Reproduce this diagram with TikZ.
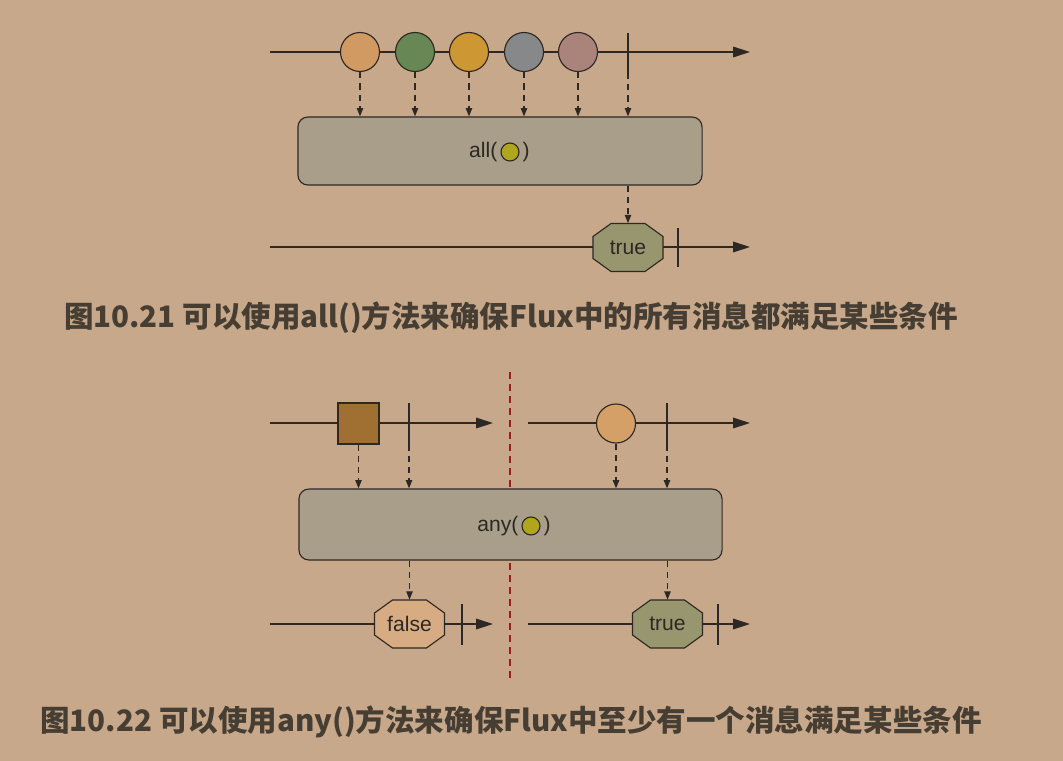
\documentclass[tikz,border=0pt]{standalone}
\usepackage{fontspec}
\setmainfont{Liberation Sans}
\newfontfamily\cjk{Noto Sans CJK SC}
\usetikzlibrary{arrows.meta,positioning}
\definecolor{bg}{RGB}{200,168,138}
\definecolor{ink}{RGB}{45,40,36}
\definecolor{boxc}{RGB}{168,158,138}
\definecolor{capc}{RGB}{70,62,50}
\definecolor{sepc}{RGB}{150,30,35}
\definecolor{m1}{RGB}{209,154,98}
\definecolor{m2}{RGB}{103,136,84}
\definecolor{m3}{RGB}{205,152,52}
\definecolor{m4}{RGB}{134,136,138}
\definecolor{m5}{RGB}{170,132,122}
\definecolor{m6}{RGB}{160,112,50}
\definecolor{m7}{RGB}{212,160,104}
\definecolor{pred}{RGB}{176,166,30}
\definecolor{okc}{RGB}{152,150,110}
\definecolor{noc}{RGB}{216,172,130}
\tikzset{ ball/.style = { circle % marble
        , draw = ink
        , line width = 0.8pt
        , minimum size = 0.975cm
        , inner sep = 0pt
        }
        , sq/.style = { rectangle % square marble
        , draw = ink
        , line width = 0.8pt
        , minimum size = 1.025cm
        , inner sep = 0pt
        }
        , bar/.style = { rectangle % completion
        , fill = ink
        , inner sep = 0pt
        , minimum width = 0.065cm
        , minimum height = 0.98cm
        }
        , op/.style = { rectangle % operator box
        , rounded corners = 0.25cm
        , draw = ink
        , line width = 0.8pt
        , fill = boxc
        }
        , fn/.style = { inner sep = 0pt
        , font = \fontsize{15}{17}\selectfont
        , text = ink
        }
        }

% octagon result: name, x, y, colour, label
\newcommand\octo[5]{%
  \filldraw[draw=ink, line width=0.8pt, fill=#4]
    (#2-17,#3-24) -- (#2+17,#3-24) -- (#2+35,#3-11) -- (#2+35,#3+11)
    -- (#2+17,#3+24) -- (#2-17,#3+24) -- (#2-35,#3+11) -- (#2-35,#3-11) -- cycle;
  \node[fn, minimum width=1.75cm, minimum height=1.2cm] (#1) at (#2,#3) {#5};
}

\begin{document}
\begin{tikzpicture}[x=0.025cm, y=-0.025cm,
        timeline/.style={draw=ink, line width=1.4pt, -{Triangle[length=0.42cm,width=0.26cm]}},
        flow/.style={draw=ink, line width=0.9pt, dash pattern=on 4.5pt off 3.5pt, -{Triangle[length=0.21cm,width=0.16cm]}},
        caption/.style={font=\cjk\bfseries\fontsize{21}{24}\selectfont, text=capc, inner sep=0pt}]
        \fill[bg] (0,0) rectangle (1063,761);
        \useasboundingbox (0,0) rectangle (1063,761);

        % all()
        \coordinate (s1) at (270,52);
        \coordinate (e1) at (750,52);
        \draw [timeline] (s1) -- (e1);
        \node [ball, fill=m1] (n1) at (360,52) {};
        \node [ball, fill=m2] (n2) at (415,52) {};
        \node [ball, fill=m3] (n3) at (469,52) {};
        \node [ball, fill=m4] (n4) at (524,52) {};
        \node [ball, fill=m5] (n5) at (578,52) {};
        \node [bar] (b1) at (628,53) {};
        \node [op, minimum width=10.1cm, minimum height=1.7cm] (all) at (500,151) {};
        \node [ball, fill=pred, minimum size=0.45cm] (p1) at (510,152) {};
        \node [fn, left=2pt of p1] {all(};
        \node [fn, right=2pt of p1] {)};
        \foreach \i in {n1,n2,n3,n4,n5,b1}
            \draw [flow] (\i.south) -- (\i |- all.north);
        \coordinate (s2) at (270,247);
        \coordinate (e2) at (750,247);
        \draw [timeline] (s2) -- (e2);
        \octo{r1}{628}{247.5}{okc}{true}
        \node [bar] (b2) at (678,247.5) {};
        \draw [flow] (all.south -| r1) -- (r1.north);
        \node [caption] (cap1) at (511,318) {图10.21 可以使用all()方法来确保Flux中的所有消息都满足某些条件};

        % any()
        \coordinate (t1) at (510,372);
        \coordinate (t2) at (510,678);
        \draw [sepc, line width=1.2pt, dash pattern=on 5pt off 3.5pt] (t1) -- (t2);
        \coordinate (s3) at (270,423);
        \coordinate (e3) at (493,423);
        \draw [timeline] (s3) -- (e3);
        \coordinate (s4) at (528,423);
        \coordinate (e4) at (750,423);
        \draw [timeline] (s4) -- (e4);
        \node [sq, fill=m6] (q1) at (358.5,423.5) {};
        \node [bar, minimum height=1.03cm] (b3) at (409,423.5) {};
        \node [ball, fill=m7] (n6) at (616,423.5) {};
        \node [bar, minimum height=1.03cm] (b4) at (667,423.5) {};
        \node [op, minimum width=10.575cm, minimum height=1.775cm] (any) at (510.5,524.5) {};
        \node [ball, fill=pred, minimum size=0.45cm] (p2) at (531,526) {};
        \node [fn, left=2pt of p2] {any(};
        \node [fn, right=2pt of p2] {)};
        \foreach \i in {q1,b3,n6,b4}
            \draw [flow] (\i.south) -- (\i |- any.north);
        \coordinate (s5) at (270,624);
        \coordinate (e5) at (493,624);
        \draw [timeline] (s5) -- (e5);
        \coordinate (s6) at (528,624);
        \coordinate (e6) at (750,624);
        \draw [timeline] (s6) -- (e6);
        \octo{r2}{409.5}{624}{noc}{false}
        \node [bar, minimum height=1.03cm] (b5) at (462,624.5) {};
        \octo{r3}{667.5}{624}{okc}{true}
        \node [bar, minimum height=1.03cm] (b6) at (718,624.5) {};
        \draw [flow] (any.south -| r2) -- (r2.north);
        \draw [flow] (any.south -| r3) -- (r3.north);
        \node [caption] (cap2) at (511,722) {图10.22 可以使用any()方法来确保Flux中至少有一个消息满足某些条件};
\end{tikzpicture}
\end{document}
